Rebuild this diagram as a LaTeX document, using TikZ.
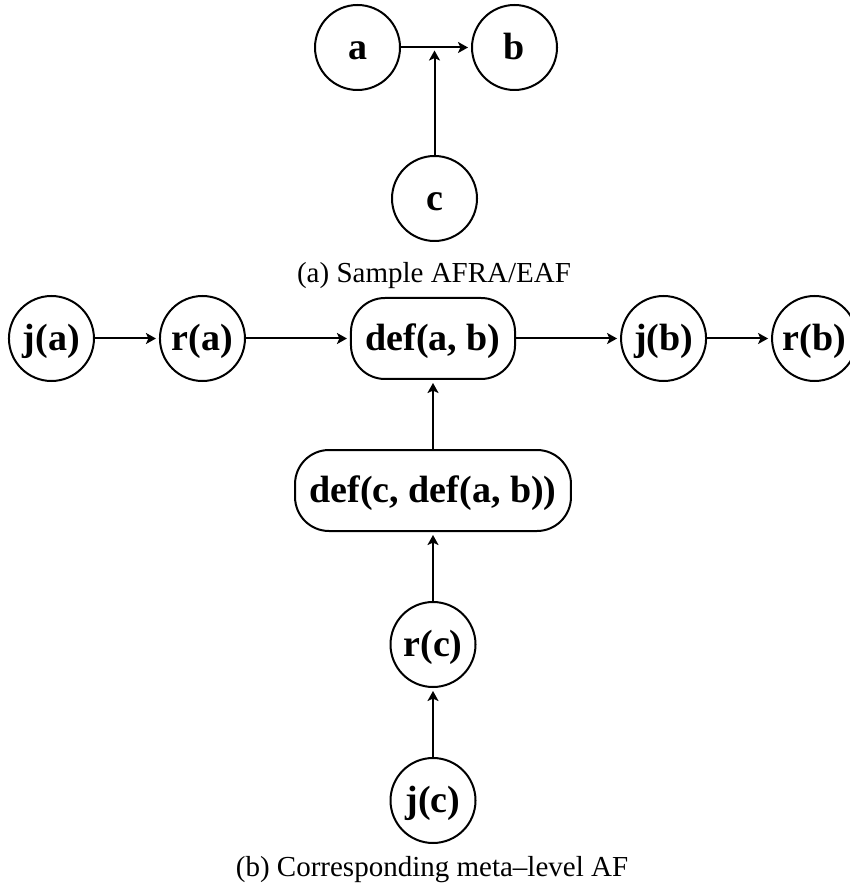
\documentclass[tikz,border=0pt]{standalone}
\usepackage{fontspec}
\setmainfont{Liberation Serif}
\usetikzlibrary{arrows.meta,positioning}

\begin{document}
\begin{tikzpicture}[
    arg/.style={draw, circle, line width=1pt, minimum size=42.5pt, inner sep=0pt, text height=14.5pt, text depth=2.5pt, font=\fontsize{19}{23}\selectfont\bfseries},
    meta/.style={draw, rounded corners=17pt, line width=1pt, minimum height=40.5pt, inner xsep=7.25pt, text height=14.5pt, text depth=2.5pt, font=\fontsize{19}{23}\selectfont\bfseries},
    att/.style={-{Stealth[length=5pt, width=5.5pt, inset=1.2pt]}, line width=1pt, shorten >=1.5pt},
    subcap/.style={anchor=base, font=\fontsize{14.5}{17}\selectfont},
    node distance=34.5pt and 32pt
]
\useasboundingbox (0,0) rectangle (424.5pt,-443pt);
% (a) the AFRA
\node[arg] (a) at (178.75pt,-23.75pt) {a};
\node[arg, right=35pt of a] (b) {b};
\draw[att] (a) -- coordinate (ab) (b);
\node[arg] (c) at (217.25pt,-99.25pt) {c};
\draw[att] (c) -- (c |- ab);
\node[subcap] (capa) at (217pt,-141.5pt) {(a) Sample AFRA/EAF};
% (b) meta-level AF
\node[meta] (dab) at (216.5pt,-169.25pt) {def(a, b)};
\node[arg, left=52pt of dab] (ra) {r(a)};
\node[arg, left=of ra] (ja) {j(a)};
\node[arg, right=52pt of dab] (jb) {j(b)};
\node[arg, right=of jb] (rb) {r(b)};
\node[meta, below=of dab] (dcab) {def(c, def(a, b))};
\node[arg, below=of dcab] (rc) {r(c)};
\node[arg, below=of rc] (jc) {j(c)};
\draw[att] (ja) -- (ra);
\draw[att] (ra) -- (dab);
\draw[att] (dab) -- (jb);
\draw[att] (jb) -- (rb);
\draw[att] (dcab) -- (dab);
\draw[att] (rc) -- (dcab);
\draw[att] (jc) -- (rc);
\node[subcap] (capb) at (216pt,-438.3pt) {(b) Corresponding meta--level AF};
\end{tikzpicture}
\end{document}
